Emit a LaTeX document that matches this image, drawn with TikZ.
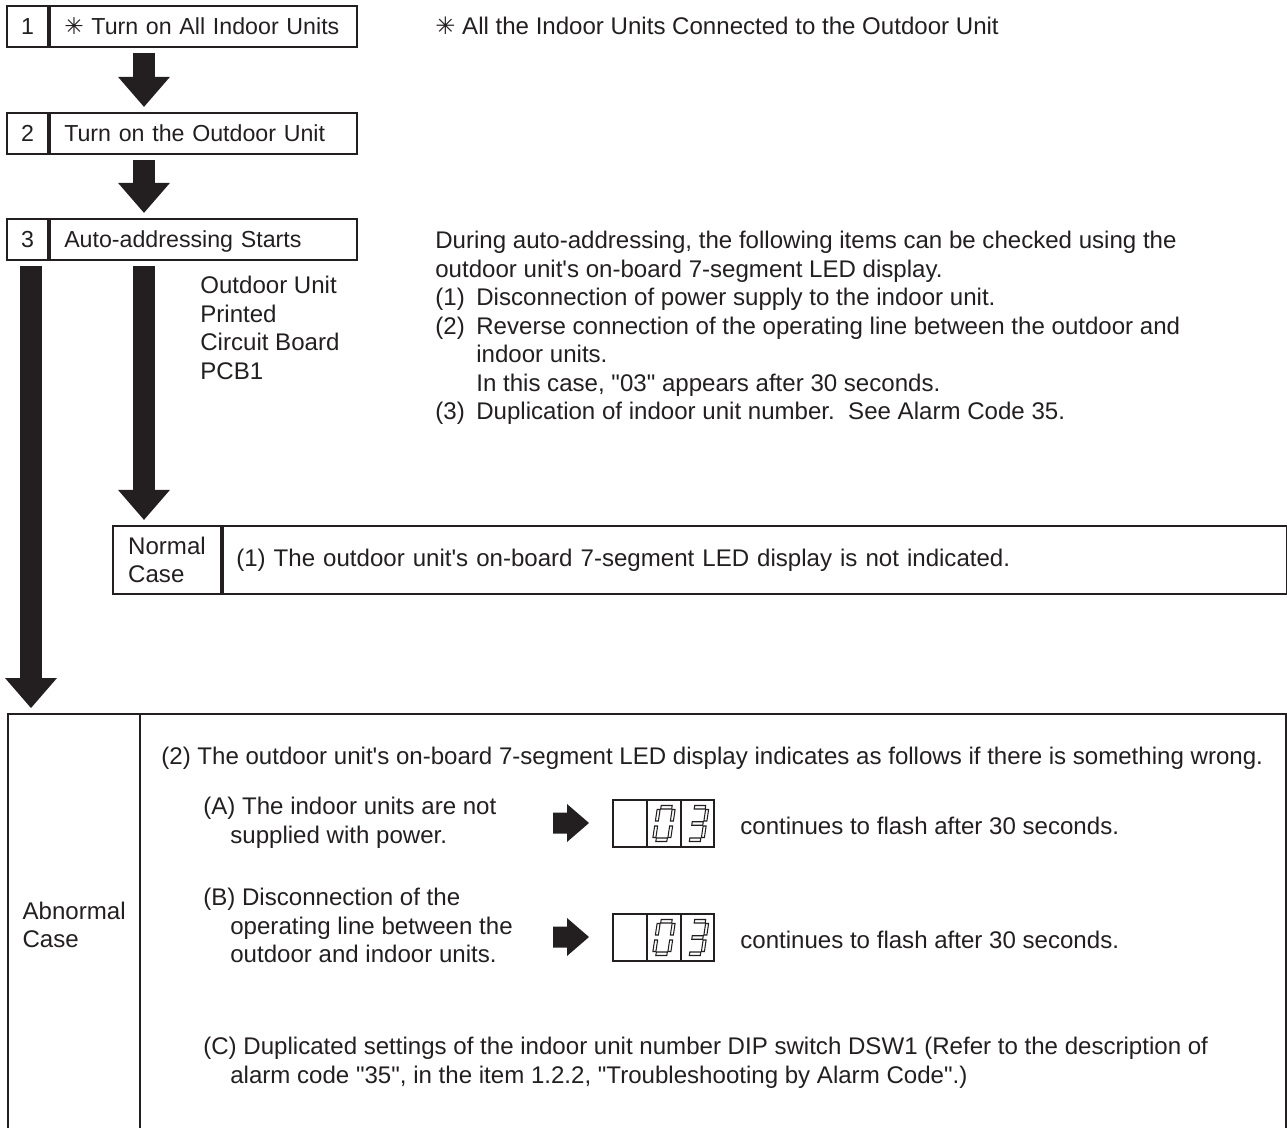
\documentclass[tikz,border=0pt]{standalone}
\usepackage{fontspec}
\setmainfont{Liberation Sans}[Ligatures=TeXOff]
\newfontfamily\dingfont{DejaVu Sans}
\usetikzlibrary{arrows.meta, positioning}
\definecolor{ink}{RGB}{35,31,32}
\tikzset{
  boxfont/.style={font=\fontsize{13.2}{16}\selectfont},
  numcell/.style={draw, boxfont, line width=1.3pt, minimum width=0.82cm, minimum height=0.82cm, inner sep=0pt},
  stepcell/.style={draw, boxfont, line width=1.3pt, minimum height=0.82cm, text width=5.58cm, text height=11pt, text depth=1.5pt,
    inner xsep=0.28cm, inner ysep=0pt, align=left},
  casecell/.style={draw, line width=1.3pt, inner sep=0pt},
  bigarrow/.style={line width=0.44cm, shorten <=0.1cm, shorten >=0.1cm, -{Triangle[length=0.6cm, width=1.04cm, line width=0pt]}},
  ledline/.style={line width=0.9pt},
  segline/.style={line width=0.6pt},
  pointer/.pic={\fill (-18,-10.5) -- (-4,-10.5) -- (-4,-19) -- (18,0) -- (-4,19) -- (-4,10.5) -- (-18,10.5) -- cycle;},
  leddisp/.pic={
    \draw[ledline] (-50.5,-23.5) rectangle (50.5,23.5);
    \draw[ledline] (-16.5,-23.5) -- (-16.5,23.5) (17.5,-23.5) -- (17.5,23.5);
    % digit 0
    \begin{scope}[shift={(0.5,0)}, xslant=0.15]
      \foreach \xa/\ya/\xb/\yb in {-5.5/-18/5.5/-14.5, -5.5/14.5/5.5/18, -9/-14/-6/-2.5, 6/-14/9/-2.5, -9/2.5/-6/14, 6/2.5/9/14}
        \draw[segline] (\xa,\ya) rectangle (\xb,\yb);
    \end{scope}
    % digit 3
    \begin{scope}[shift={(34,0)}, xslant=0.15]
      \foreach \xa/\ya/\xb/\yb in {-5.5/-18/5.5/-14.5, -5.5/14.5/5.5/18, -5.5/-1.75/5.5/1.75, 6/-14/9/-2.5, 6/2.5/9/14}
        \draw[segline] (\xa,\ya) rectangle (\xb,\yb);
    \end{scope}
  }
}
\newcommand{\unitmark}{{\dingfont ✳}}
\newcommand{\itm}[1]{\makebox[0.82cm][l]{#1}}
\newcommand{\cont}{\hspace*{0.54cm}}

\begin{document}
\begin{tikzpicture}[x=0.02cm, y=-0.02cm, color=ink, font=\fontsize{13.7}{16.2}\selectfont]
  \useasboundingbox (0,0) rectangle (1287,1128);
  \coordinate (leftcol) at (31,0);
  \coordinate (midcol)  at (144,0);

  % steps
  \node[numcell]  (num1)  at (27.5,26.5)      {1};
  \node[stepcell] (step1) [right=0pt of num1] {\unitmark\ Turn on All Indoor Units};
  \node[numcell]  (num2)  at (27.5,133.5)     {2};
  \node[stepcell] (step2) [right=0pt of num2] {Turn on the Outdoor Unit};
  \node[numcell]  (num3)  at (27.5,239.5)     {3};
  \node[stepcell] (step3) [right=0pt of num3] {Auto-addressing Starts};

  \node[anchor=west, inner sep=0pt] (note) at (435,26) {\unitmark\ All the Indoor Units Connected to the Outdoor Unit};
  \node[anchor=north west, inner sep=0pt, align=left] (pcb) at (200,276) {Outdoor Unit\\Printed\\Circuit Board\\PCB1};
  \node[anchor=north west, inner sep=0pt, align=left] (during) at (435,231) {During auto-addressing, the following items can be checked using the\\
    outdoor unit's on-board 7-segment LED display.\\
    \itm{(1)}Disconnection of power supply to the indoor unit.\\
    \itm{(2)}Reverse connection of the operating line between the outdoor and\\
    \hspace*{0.82cm}indoor units.\\
    \hspace*{0.82cm}In this case, "03" appears after 30 seconds.\\
    \itm{(3)}Duplication of indoor unit number.\ \ See Alarm Code 35.};

  % normal case
  \node[casecell, minimum width=2.16cm, minimum height=1.36cm, align=left] (normal) at (167,560) {Normal\\Case};
  \node[casecell, minimum width=21.28cm, minimum height=1.36cm, text width=20.76cm, inner xsep=0.26cm, align=left] (normaltxt) [right=0pt of normal]
    {(1) The outdoor unit's on-board 7-segment LED display is not indicated.};

  % abnormal case
  \node[casecell, anchor=north west, minimum width=2.64cm, minimum height=8.44cm, align=left] (abnormal) at (7,713) {Abnormal\\Case};
  \node[casecell, anchor=north west, minimum width=22.92cm, minimum height=8.44cm] (abnormaltxt) at (139,713) {};

  \node[anchor=north west, inner sep=0pt] (wrong) at (161,747)
    {(2) The outdoor unit's on-board 7-segment LED display indicates as follows if there is something wrong.};
  \node[anchor=north west, inner sep=0pt, align=left] (itemA) at (203,797)
    {(A) The indoor units are not\\\cont supplied with power.};
  \node[anchor=north west, inner sep=0pt, align=left] (itemB) at (203,888)
    {(B) Disconnection of the\\\cont operating line between the\\\cont outdoor and indoor units.};
  \node[anchor=north west, inner sep=0pt, align=left] (itemC) at (203,1037)
    {(C) Duplicated settings of the indoor unit number DIP switch DSW1 (Refer to the description of\\
    \cont alarm code "35", in the item 1.2.2, "Troubleshooting by Alarm Code".)};

  \pic at (571,823) {pointer};
  \pic at (663.5,823.5) {leddisp};
  \node[anchor=west, inner sep=0pt] (flashA) at (740,826) {continues to flash after 30 seconds.};
  \pic at (571,937) {pointer};
  \pic at (663.5,937.5) {leddisp};
  \node[anchor=west, inner sep=0pt] (flashB) at (740,940) {continues to flash after 30 seconds.};

  % flow arrows
  \draw[bigarrow] (step1.south -| midcol)  -- (step2.north -| midcol);
  \draw[bigarrow] (step2.south -| midcol)  -- (step3.north -| midcol);
  \draw[bigarrow] (step3.south -| midcol)  -- (normal.north -| midcol);
  \draw[bigarrow] (num3.south -| leftcol)  -- (abnormal.north -| leftcol);
\end{tikzpicture}
\end{document}
